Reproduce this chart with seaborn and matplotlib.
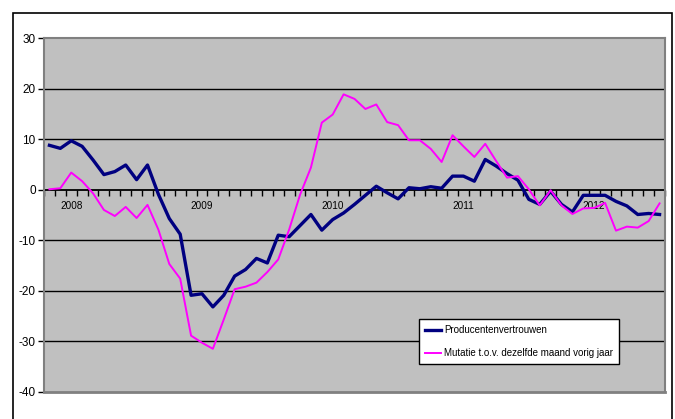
import matplotlib
matplotlib.use("Agg")
import matplotlib.pyplot as plt
from matplotlib.patches import Rectangle
import seaborn as sns
import pandas as pd
import numpy as np

# monthly values, nov 2007 .. jul 2012
producenten = [8.8, 8.2, 9.7, 8.6, 5.9, 3.0, 3.6, 4.9, 2.0, 4.9,
               -0.9, -5.7, -8.8, -20.9, -20.6, -23.2, -20.9, -17.1, -15.8, -13.6,
               -14.5, -9.0, -9.3, -7.1, -4.9, -8.0, -5.9, -4.6, -2.9, -1.1,
               0.7, -0.6, -1.8, 0.4, 0.2, 0.6, 0.3, 2.7, 2.7, 1.7,
               6.0, 4.7, 3.2, 1.9, -1.9, -2.9, -0.3, -2.9, -4.4, -1.1,
               -1.1, -1.1, -2.3, -3.2, -4.9, -4.7, -4.9]
mutatie = [0.1, 0.3, 3.4, 1.7, -0.7, -4.0, -5.2, -3.4, -5.6, -3.0,
           -7.9, -14.7, -17.6, -28.9, -30.3, -31.5, -25.7, -19.7, -19.2, -18.4,
           -16.3, -13.8, -7.9, -1.0, 4.4, 13.3, 14.9, 18.9, 18.0, 16.0,
           16.9, 13.4, 12.8, 9.8, 9.8, 8.1, 5.5, 10.8, 8.6, 6.5,
           9.1, 5.7, 2.4, 2.7, 0.1, -3.1, -0.1, -3.1, -4.8, -3.7,
           -3.6, -2.6, -8.1, -7.3, -7.5, -6.2, -2.7]
year_labels = ["2008", "2009", "2010", "2011", "2012"]
year_pos = [2, 14, 26, 38, 50]
y_ticks = [30, 20, 10, 0, -10, -20, -30, -40]

label_a = "Producentenvertrouwen"
label_b = "Mutatie t.o.v. dezelfde maand vorig jaar"

df = pd.DataFrame({"maand": np.arange(len(producenten)),
                   "prod": producenten, "mut": mutatie})

plt.rcParams["font.family"] = ["Liberation Sans", "DejaVu Sans"]

W, H = 675, 419
fig = plt.figure(figsize=(W / 100, H / 100), dpi=100)
fig.patch.set_facecolor("white")
ax = fig.add_axes([44 / W, 1 - 391.7 / H, 621 / W, 353.4 / H])
ax.set_facecolor("#C0C0C0")

# outer chart border
fig.patches.append(Rectangle((13 / W, -0.05), 659 / W, 1 - 13 / H + 0.05,
                             transform=fig.transFigure, fill=False,
                             edgecolor="black", lw=1.2, zorder=0))

for yv in [10, 20, -10, -20, -30]:
    ax.axhline(yv, color="black", lw=1.0, zorder=1)

sns.lineplot(data=df, x="maand", y="prod", ax=ax, color="#000080", lw=2.4,
             label=label_a, zorder=3)
sns.lineplot(data=df, x="maand", y="mut", ax=ax, color="#FF00FF", lw=1.4,
             label=label_b, zorder=4)

ax.set_xlim(-0.5, len(producenten) - 0.5)
ax.set_ylim(-40, 30)
ax.set_xlabel("")
ax.set_ylabel("")

for s in ["left", "right", "top"]:
    ax.spines[s].set_color("#808080")
    ax.spines[s].set_linewidth(1.5)
ax.spines["bottom"].set_position(("data", 0))
ax.spines["bottom"].set_color("black")
ax.spines["bottom"].set_linewidth(1.3)
ax.spines["bottom"].set_zorder(2)
ax.axhline(-40, color="#808080", lw=2.0, zorder=2, clip_on=False)

ax.set_yticks(y_ticks)
ax.set_yticklabels([str(v) for v in y_ticks], fontsize=8.5)
ax.tick_params(axis="y", direction="out", length=4, width=1, color="black",
               pad=2)

ax.set_xticks(year_pos)
ax.set_xticklabels(year_labels, fontsize=7.2)
ax.set_xticks(np.arange(-0.5, len(producenten), 1), minor=True)
ax.tick_params(axis="x", which="major", length=0, pad=8)
ax.tick_params(axis="x", which="minor", direction="out", length=4,
               width=1, color="black")

leg = ax.legend(loc="lower left", bbox_to_anchor=(0.604, 0.078),
                fontsize=7.0, frameon=True, fancybox=False, framealpha=1,
                edgecolor="black", handlelength=1.7, handletextpad=0.3,
                borderpad=0.6, labelspacing=1.35, borderaxespad=0)
leg.get_frame().set_linewidth(1.0)
leg.set_zorder(5)

fig.savefig("out.png", dpi=100, facecolor="white")
